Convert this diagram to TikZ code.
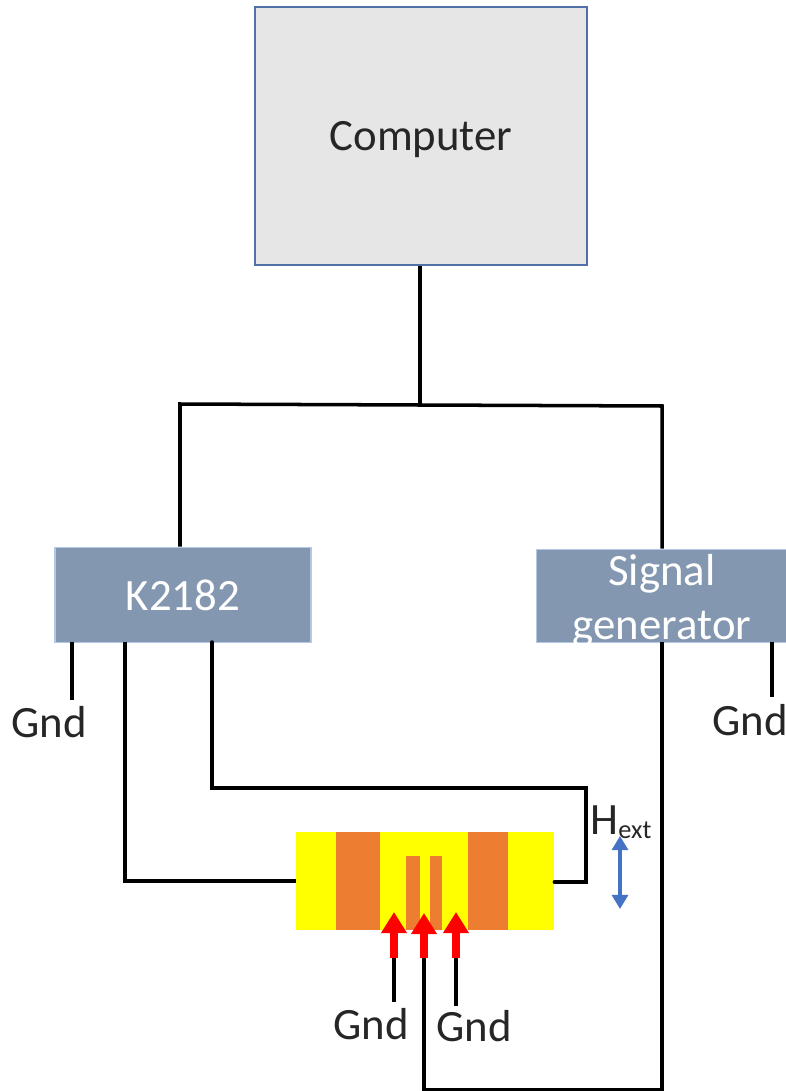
\documentclass[tikz,border=0pt]{standalone}
\usepackage{fontspec}
\setmainfont{Carlito}
\usetikzlibrary{arrows.meta}
\definecolor{boxgray}{HTML}{E7E6E6}
\definecolor{boxblue}{HTML}{4F71A8}
\definecolor{slate}{HTML}{8497B0}
\definecolor{slateedge}{HTML}{B4C7E7}
\definecolor{padorange}{HTML}{ED7D31}
\definecolor{fieldblue}{HTML}{4472C4}
\definecolor{subyellow}{HTML}{FFFF00}
\definecolor{tipred}{HTML}{FF0000}
\tikzset{
    lbl/.style={inner sep=0pt, font=\fontsize{25.5}{30.6}\selectfont, text=black!85},
    instr/.style={draw=slateedge, fill=slate, line width=0.9pt, inner sep=0pt, text=white, align=center, font=\fontsize{25.5}{30.6}\selectfont},
    wire/.style={draw=black, line width=2pt},
    padbox/.style={fill=padorange, draw=none, inner sep=0pt},
    contact/.style={draw=tipred, line width=4pt, -{Triangle[length=12pt,width=14pt]}}
}
\begin{document}
\begin{tikzpicture}[x=0.02cm,y=-0.02cm]
    \useasboundingbox (0,0) rectangle (786,1091);
    % sample
    \node[fill=subyellow, inner sep=0pt, minimum width=5.16cm, minimum height=1.96cm] (sample) at (425,881) {};
    \node[padbox, minimum width=0.88cm, minimum height=1.96cm] (padl) at (358,881) {};
    \node[padbox, minimum width=0.8cm, minimum height=1.96cm] (padr) at (488,881) {};
    \node[padbox, minimum width=0.28cm, minimum height=1.48cm] (fingl) at (413,893) {};
    \node[padbox, minimum width=0.24cm, minimum height=1.48cm] (fingr) at (436,893) {};
    % instruments
    \node[draw=boxblue, fill=boxgray, line width=0.9pt, minimum width=6.64cm, minimum height=5.16cm, lbl, text depth=0pt] (computer) at (421,136) {Computer};
    \node[instr, minimum width=5.12cm, minimum height=1.9cm] (k2182) at (183,595) {K2182};
    \node[instr, minimum width=5.06cm, minimum height=1.86cm] (siggen) at (663,596) {};
    \node[inner sep=0pt, text=white, align=center, font=\fontsize{25.5}{30.6}\selectfont] (siggentext) at (662,601) {Signal\\generator};
    % labels
    \node[lbl] (gnd1) at (49,722) {Gnd};
    \node[lbl] (gnd2) at (750,720) {Gnd};
    \node[lbl] (gnd3) at (371,1024) {Gnd};
    \node[lbl] (gnd4) at (474,1026) {Gnd};
    \node[lbl] (hext) at (621,822) {H\raisebox{-2.2pt}{\fontsize{15}{15}\selectfont ext}};
    % free ends and corners
    \coordinate (top) at (420,405);
    \coordinate (gnd1top) at (72,642);
    \coordinate (gnd1end) at (72,700);
    \coordinate (gnd2top) at (772,642);
    \coordinate (gnd2end) at (772,697);
    \coordinate (sense) at (125,642);
    \coordinate (drive) at (212,642);
    \coordinate (loop) at (586,788);
    \coordinate (sgout) at (662,642);
    \coordinate (tipl) at (394,912);
    \coordinate (tipm) at (424,913);
    \coordinate (tipr) at (456,912);
    \coordinate (basel) at (394,958);
    \coordinate (basem) at (424,958);
    \coordinate (baser) at (456,958);
    \coordinate (endl) at (394,1002);
    \coordinate (endr) at (456,1006);
    \coordinate (fieldtop) at (620,836);
    \coordinate (fieldbot) at (620,909);
    % wires
    \draw[wire] (computer.south -| top) -- (top);
    \draw[wire] (k2182.north -| 180,0) -- (180,404) -- (top) -- (662,406) -- (siggen.north -| 662,0);
    \draw[wire] (gnd1top) -- (gnd1end);
    \draw[wire] (gnd2top) -- (gnd2end);
    \draw[wire] (sense) -- (125,881) -- (sample.west);
    \draw[wire, line cap=round] (drive) -- (212,788) -- (loop) -- (586,882) -- (sample.east |- 0,882);
    \draw[wire] (sgout) -- (662,1090) -- (424,1090) -- (basem);
    \draw[wire] (basel) -- (endl);
    \draw[wire] (baser) -- (endr);
    % contacts and field
    \draw[contact] (basel) -- (tipl);
    \draw[contact] (basem) -- (tipm);
    \draw[contact] (baser) -- (tipr);
    \draw[draw=fieldblue, line width=2pt, {Triangle[length=8pt,width=9pt]}-{Triangle[length=8pt,width=9pt]}] (fieldtop) -- (fieldbot);
\end{tikzpicture}
\end{document}
